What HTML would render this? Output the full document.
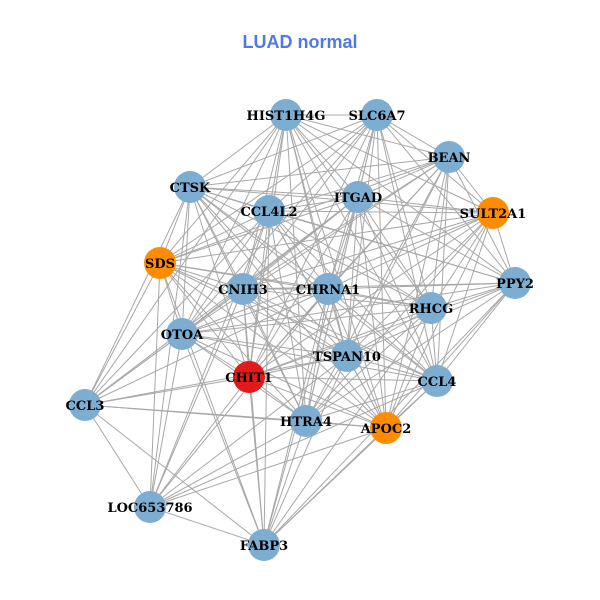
<!DOCTYPE html>
<html><head><meta charset="utf-8"><style>
html,body{margin:0;padding:0;background:#fff;width:600px;height:600px;overflow:hidden}
svg{display:block}
</style></head><body>
<svg id="g" width="600" height="600" xmlns="http://www.w3.org/2000/svg">
<text x="300" y="48" text-anchor="middle" font-family="Liberation Sans, sans-serif" font-weight="bold" font-size="18" fill="#4f79e6">LUAD normal</text>
<g id="edges" stroke="#a8a8a8" stroke-width="1"></g>
<g id="nodes"></g>
</svg>
<script>
var N=[
["HIST1H4G",286,115,"b"],["SLC6A7",377,115,"b"],["BEAN",449,157,"b"],["CTSK",190,187,"b"],
["ITGAD",358,197,"b"],["CCL4L2",269,211,"b"],["SULT2A1",493,213,"o"],["SDS",160,263,"o"],
["PPY2",515,283,"b"],["CNIH3",243,289,"b"],["CHRNA1",328,289,"b"],["RHCG",431,308,"b"],
["OTOA",182,334,"b"],["TSPAN10",347,356,"b"],["CHIT1",249,377,"r"],["CCL4",437,381,"b"],
["CCL3",85,405,"b"],["HTRA4",306,421,"b"],["APOC2",386,428,"o"],["LOC653786",150,507,"b"],
["FABP3",264,545,"b"]];
var col={b:"#7eadd2",o:"#ff8c00",r:"#e31a1c"};
var E=document.getElementById("edges"),G=document.getElementById("nodes"),ns="http://www.w3.org/2000/svg";
for(var i=0;i<N.length;i++)for(var j=i+1;j<N.length;j++){
 var dx=N[i][1]-N[j][1],dy=N[i][2]-N[j][2],d=Math.sqrt(dx*dx+dy*dy);
 if(d<340 || ((i*7+j*3)%4==0 && d<430)){
  var l=document.createElementNS(ns,"line");
  l.setAttribute("x1",N[i][1]);l.setAttribute("y1",N[i][2]);l.setAttribute("x2",N[j][1]);l.setAttribute("y2",N[j][2]);
  E.appendChild(l);}
}
N.forEach(function(n){
 var c=document.createElementNS(ns,"circle");
 c.setAttribute("cx",n[1]);c.setAttribute("cy",n[2]);c.setAttribute("r",16);c.setAttribute("fill",col[n[3]]);
 G.appendChild(c);
});
N.forEach(function(n){
 var t=document.createElementNS(ns,"text");
 t.setAttribute("x",n[1]);t.setAttribute("y",n[2]+5);t.setAttribute("text-anchor","middle");
 t.setAttribute("font-family","DejaVu Serif, serif");t.setAttribute("font-weight","bold");t.setAttribute("font-size","13");
 t.textContent=n[0];G.appendChild(t);
});
</script>
</body></html>
